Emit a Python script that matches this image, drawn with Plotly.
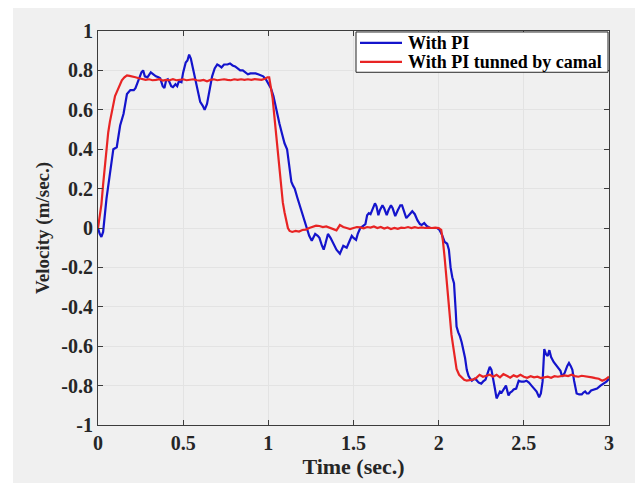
import plotly.graph_objects as go

# ---- data ----
blue_t = [0.00, 0.01, 0.02, 0.03, 0.05, 0.07, 0.09, 0.11, 0.12, 0.13, 0.15, 0.16, 0.17, 0.19, 0.21, 0.22,
          0.24, 0.255, 0.265, 0.275, 0.29, 0.30, 0.31, 0.325, 0.34, 0.355, 0.365, 0.38, 0.39, 0.40, 0.41,
          0.42, 0.43, 0.44, 0.455, 0.465, 0.475, 0.49, 0.50, 0.515, 0.525, 0.535, 0.545, 0.555, 0.57,
          0.585, 0.60, 0.615, 0.626, 0.64, 0.655, 0.67, 0.685, 0.70, 0.71, 0.725, 0.74, 0.76, 0.775,
          0.79, 0.805, 0.82, 0.835, 0.85, 0.865, 0.88, 0.895, 0.91, 0.925, 0.94, 0.955, 0.97, 0.985,
          1.00, 1.015, 1.03, 1.05, 1.065, 1.08, 1.095, 1.11, 1.12, 1.135, 1.145, 1.155, 1.17, 1.185,
          1.20, 1.215, 1.225, 1.24, 1.255, 1.265, 1.275, 1.29, 1.30, 1.315, 1.325, 1.335, 1.35, 1.365,
          1.38, 1.39, 1.40, 1.42, 1.43, 1.44, 1.45, 1.46, 1.475, 1.49, 1.50, 1.515, 1.525, 1.54, 1.555,
          1.57, 1.58, 1.59, 1.60, 1.615, 1.626, 1.635, 1.646, 1.655, 1.67, 1.68, 1.695, 1.705, 1.72,
          1.73, 1.745, 1.76, 1.775, 1.785, 1.80, 1.81, 1.83, 1.845, 1.86, 1.875, 1.89, 1.90, 1.915,
          1.93, 1.95, 1.97, 1.99, 2.005, 2.02, 2.035, 2.05, 2.06, 2.07, 2.08, 2.09, 2.10, 2.105, 2.115,
          2.125, 2.135, 2.145, 2.155, 2.165, 2.175, 2.185, 2.195, 2.21, 2.22, 2.235, 2.25, 2.26, 2.275,
          2.29, 2.30, 2.31, 2.32, 2.33, 2.34, 2.35, 2.36, 2.37, 2.38, 2.395, 2.41, 2.42, 2.43, 2.44,
          2.455, 2.47, 2.485, 2.50, 2.515, 2.53, 2.545, 2.56, 2.575, 2.59, 2.60, 2.61, 2.62, 2.63, 2.64,
          2.65, 2.66, 2.675, 2.69, 2.705, 2.715, 2.725, 2.74, 2.755, 2.765, 2.775, 2.785, 2.795, 2.81,
          2.825, 2.84, 2.85, 2.86, 2.87, 2.88, 2.895, 2.91, 2.93, 2.95, 2.97, 2.985, 3.00]
blue_v = [0.00, -0.03, -0.045, -0.02, 0.15, 0.28, 0.40, 0.41, 0.47, 0.52, 0.58, 0.63, 0.68, 0.70, 0.70, 0.71,
          0.76, 0.79, 0.80, 0.77, 0.765, 0.78, 0.79, 0.78, 0.77, 0.765, 0.76, 0.72, 0.71, 0.75, 0.755,
          0.74, 0.72, 0.715, 0.73, 0.72, 0.745, 0.74, 0.79, 0.84, 0.85, 0.88, 0.86, 0.82, 0.76,
          0.69, 0.64, 0.62, 0.60, 0.63, 0.70, 0.77, 0.81, 0.83, 0.825, 0.815, 0.83, 0.83, 0.835,
          0.825, 0.82, 0.81, 0.80, 0.80, 0.79, 0.78, 0.785, 0.785, 0.785, 0.78, 0.775, 0.77, 0.755,
          0.735, 0.71, 0.67, 0.585, 0.53, 0.48, 0.43, 0.40, 0.33, 0.235, 0.215, 0.20, 0.155, 0.115,
          0.07, 0.03, 0.00, -0.04, -0.065, -0.045, -0.03, -0.04, -0.05, -0.09, -0.11, -0.08, -0.03, -0.05,
          -0.075, -0.095, -0.11, -0.13, -0.105, -0.09, -0.095, -0.10, -0.07, -0.04, -0.05, -0.06, -0.03, 0.00, 0.01,
          0.02, 0.065, 0.075, 0.07, 0.10, 0.125, 0.11, 0.065, 0.09, 0.115, 0.10, 0.065, 0.09, 0.115,
          0.10, 0.06, 0.09, 0.115, 0.115, 0.08, 0.05, 0.07, 0.085, 0.07, 0.04, 0.02, 0.015, 0.025,
          0.01, 0.00, 0.00, 0.00, -0.01, -0.035, -0.07, -0.08, -0.11, -0.20, -0.25, -0.28, -0.42, -0.50, -0.53,
          -0.55, -0.58, -0.615, -0.66, -0.72, -0.75, -0.765, -0.775, -0.765, -0.77, -0.785, -0.79, -0.78, -0.77,
          -0.73, -0.705, -0.72, -0.76, -0.815, -0.865, -0.85, -0.83, -0.835, -0.82, -0.80, -0.85, -0.835, -0.83, -0.82,
          -0.815, -0.775, -0.78, -0.78, -0.775, -0.785, -0.80, -0.815, -0.83, -0.86, -0.84, -0.78, -0.615, -0.64, -0.65,
          -0.62, -0.655, -0.68, -0.695, -0.71, -0.725, -0.755, -0.735, -0.70, -0.685, -0.70, -0.72, -0.775, -0.84,
          -0.845, -0.845, -0.835, -0.83, -0.84, -0.84, -0.825, -0.82, -0.815, -0.80, -0.79, -0.78, -0.765]

red_t = [0.00, 0.01, 0.02, 0.03, 0.04, 0.05, 0.06, 0.07, 0.08, 0.09, 0.10, 0.11, 0.12, 0.13, 0.14, 0.155,
         0.17, 0.185, 0.20, 0.22, 0.24, 0.26, 0.28, 0.30, 0.32, 0.34, 0.36, 0.38, 0.40, 0.42, 0.44, 0.46,
         0.48, 0.50, 0.52, 0.54, 0.56, 0.58, 0.60, 0.62, 0.64, 0.66, 0.68, 0.70, 0.72, 0.74, 0.76, 0.78,
         0.80, 0.82, 0.84, 0.86, 0.88, 0.90, 0.92, 0.94, 0.96, 0.98, 0.995, 1.005, 1.015, 1.025, 1.035,
         1.045, 1.055, 1.065, 1.075, 1.085, 1.095, 1.105, 1.115, 1.125, 1.14, 1.16, 1.18, 1.20, 1.22, 1.24,
         1.26, 1.28, 1.30, 1.32, 1.34, 1.36, 1.38, 1.40, 1.42, 1.44, 1.46, 1.48, 1.50, 1.52, 1.54, 1.56,
         1.58, 1.60, 1.62, 1.64, 1.66, 1.68, 1.70, 1.72, 1.74, 1.76, 1.78, 1.80, 1.82, 1.84, 1.86, 1.88,
         1.90, 1.92, 1.94, 1.96, 1.98, 2.00, 2.015, 2.025, 2.035, 2.045, 2.055, 2.065, 2.075, 2.085, 2.095,
         2.105, 2.12, 2.135, 2.15, 2.165, 2.18, 2.20, 2.22, 2.24, 2.26, 2.28, 2.30, 2.32, 2.34, 2.36, 2.38,
         2.40, 2.42, 2.44, 2.46, 2.48, 2.50, 2.52, 2.54, 2.56, 2.58, 2.60, 2.62, 2.64, 2.66, 2.68, 2.70,
         2.72, 2.74, 2.76, 2.78, 2.80, 2.82, 2.84, 2.86, 2.88, 2.90, 2.92, 2.94, 2.96, 2.98, 3.00]
red_v = [0.00, 0.05, 0.12, 0.22, 0.32, 0.41, 0.485, 0.54, 0.585, 0.63, 0.67, 0.69, 0.71, 0.735, 0.75, 0.765,
         0.775, 0.772, 0.77, 0.765, 0.76, 0.757, 0.752, 0.755, 0.75, 0.752, 0.755, 0.748, 0.752, 0.75, 0.755, 0.75,
         0.752, 0.755, 0.75, 0.752, 0.755, 0.75, 0.748, 0.752, 0.745, 0.752, 0.755, 0.75, 0.752, 0.755, 0.752, 0.75,
         0.755, 0.752, 0.755, 0.752, 0.755, 0.752, 0.756, 0.755, 0.752, 0.758, 0.765, 0.765, 0.72, 0.66, 0.57,
         0.48, 0.38, 0.29, 0.20, 0.13, 0.08, 0.04, 0.00, -0.015, -0.02, -0.015, -0.018, -0.01, -0.008, 0.00,
         0.005, 0.012, 0.01, 0.005, 0.008, 0.002, -0.005, -0.012, 0.015, 0.005, 0.00, -0.005, 0.00, 0.005, 0.003, -0.002,
         0.005, 0.002, 0.008, 0.00, 0.005, -0.003, 0.003, -0.005, 0.00, -0.004, 0.002, 0.00, 0.005, 0.00, 0.004, 0.00,
         0.003, 0.00, 0.002, 0.00, 0.002, 0.00, -0.01, -0.065, -0.15, -0.25, -0.36, -0.46, -0.54, -0.60, -0.66,
         -0.715, -0.745, -0.76, -0.77, -0.775, -0.772, -0.77, -0.762, -0.745, -0.755, -0.748, -0.745, -0.755, -0.745, -0.758, -0.742,
         -0.75, -0.76, -0.748, -0.755, -0.745, -0.755, -0.76, -0.752, -0.758, -0.755, -0.762, -0.758, -0.755, -0.76, -0.752, -0.755,
         -0.75, -0.748, -0.752, -0.745, -0.752, -0.755, -0.75, -0.752, -0.755, -0.758, -0.762, -0.765, -0.775, -0.768, -0.755]

series_names = ["With PI", "With PI tunned by camal"]
series_colors = ["#1414cc", "#e82424"]

x_ticks = [0, 0.5, 1, 1.5, 2, 2.5, 3]
x_tick_labels = ["0", "0.5", "1", "1.5", "2", "2.5", "3"]
y_ticks = [-1, -0.8, -0.6, -0.4, -0.2, 0, 0.2, 0.4, 0.6, 0.8, 1]
y_tick_labels = ["-1", "-0.8", "-0.6", "-0.4", "-0.2", "0", "0.2", "0.4", "0.6", "0.8", "1"]

FONT = "Liberation Serif"
TXT = "#262626"

fig = go.Figure()
fig.add_trace(go.Scatter(x=blue_t, y=blue_v, mode="lines", name=series_names[0],
                         line=dict(color=series_colors[0], width=2.2), showlegend=False))
fig.add_trace(go.Scatter(x=red_t, y=red_v, mode="lines", name=series_names[1],
                         line=dict(color=series_colors[1], width=2.2), showlegend=False))

# figure sits inside the page body (8px default margin)
W, H = 635, 475
L, R, T, B = 90, 34, 18, 56
pw, ph = W - L - R, H - T - B

def px(sx):   # screen x -> paper x
    return (sx - 8 - L) / pw

def py(sy):   # screen y -> paper y
    return (H - B - (sy - 8)) / ph

# gray MATLAB-like figure background
fig.add_shape(type="rect", xref="paper", yref="paper",
              x0=px(13), x1=px(660), y0=py(500), y1=py(0),
              fillcolor="#f0f0f0", line=dict(width=0), layer="below")

# legend drawn like the MATLAB one
fig.add_shape(type="rect", xref="paper", yref="paper",
              x0=px(356), x1=px(608), y0=py(68), y1=py(27),
              fillcolor="white", line=dict(color="#262626", width=1))
for i, (nm, col) in enumerate(zip(series_names, series_colors)):
    sy = 38 + i * 19.5
    fig.add_shape(type="line", xref="paper", yref="paper",
                  x0=px(360), x1=px(402), y0=py(sy), y1=py(sy),
                  line=dict(color=col, width=2.2))
    fig.add_annotation(xref="paper", yref="paper", x=px(406), y=py(sy + 0.5),
                       xanchor="left", yanchor="middle", showarrow=False,
                       text="<b>%s</b>" % nm, font=dict(family=FONT, size=18, color="black"))

axis_common = dict(showline=True, linecolor="#3c3c3c", linewidth=1, mirror="allticks",
                   ticks="inside", ticklen=5, tickcolor="#3c3c3c",
                   showgrid=True, gridcolor="#e3e3e3", gridwidth=1, zeroline=False,
                   tickfont=dict(family=FONT, size=20, color=TXT))

fig.update_layout(
    width=W, height=H,
    margin=dict(l=L, r=R, t=T, b=B),
    paper_bgcolor="white", plot_bgcolor="white",
    xaxis=dict(range=[0, 3], tickvals=x_ticks, ticktext=["<b>%s</b>" % s for s in x_tick_labels],
               title=dict(text="<b>Time (sec.)</b>", font=dict(family=FONT, size=22, color=TXT), standoff=2),
               **axis_common),
    yaxis=dict(range=[-1, 1], tickvals=y_ticks, ticktext=["<b>%s</b>" % s for s in y_tick_labels],
               title=dict(text="<b>Velocity (m/sec.)</b>", font=dict(family=FONT, size=19, color=TXT), standoff=6),
               **axis_common),
    showlegend=False,
)

fig.write_html("out.html")
